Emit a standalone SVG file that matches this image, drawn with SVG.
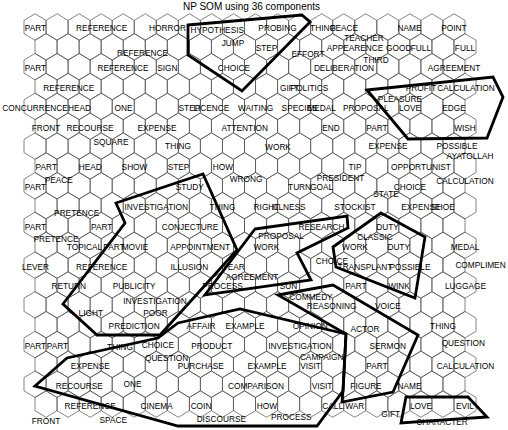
<svg xmlns="http://www.w3.org/2000/svg" xmlns:xlink="http://www.w3.org/1999/xlink" width="508" height="430" viewBox="0 0 508 430">
<style>
#h{fill:none;stroke:#505050;stroke-width:0.7}
.t{font-family:"Liberation Sans",Arial,Helvetica,sans-serif;font-size:8.3px;text-anchor:middle;fill:#000}
.ti{font-family:"Liberation Sans",Arial,Helvetica,sans-serif;font-size:10px;text-anchor:middle;fill:#000}
.c{fill:none;stroke:#000;stroke-width:2.8;stroke-linejoin:miter}
</style>
<defs>
<path id="h" d="M0,-13.23L11.025,-6.615V6.615L0,13.23L-11.025,6.615V-6.615Z"/>
<g id="row">
<use href="#h" x="0"/><use href="#h" x="22.05"/><use href="#h" x="44.1"/><use href="#h" x="66.15"/><use href="#h" x="88.2"/>
<use href="#h" x="110.25"/><use href="#h" x="132.3"/><use href="#h" x="154.35"/><use href="#h" x="176.4"/><use href="#h" x="198.45"/>
<use href="#h" x="220.5"/><use href="#h" x="242.55"/><use href="#h" x="264.6"/><use href="#h" x="286.65"/><use href="#h" x="308.7"/>
<use href="#h" x="330.75"/><use href="#h" x="352.8"/><use href="#h" x="374.85"/><use href="#h" x="396.9"/><use href="#h" x="418.95"/>
</g>
</defs>
<rect width="508" height="430" fill="#fff"/>
<g id="grid">
<use href="#row" x="35.03" y="27"/>
<use href="#row" x="46.05" y="46.845"/>
<use href="#row" x="35.03" y="66.69"/>
<use href="#row" x="46.05" y="86.535"/>
<use href="#row" x="35.03" y="106.38"/>
<use href="#row" x="46.05" y="126.225"/>
<use href="#row" x="35.03" y="146.07"/>
<use href="#row" x="46.05" y="165.915"/>
<use href="#row" x="35.03" y="185.76"/>
<use href="#row" x="46.05" y="205.605"/>
<use href="#row" x="35.03" y="225.45"/>
<use href="#row" x="46.05" y="245.295"/>
<use href="#row" x="35.03" y="265.14"/>
<use href="#row" x="46.05" y="284.985"/>
<use href="#row" x="35.03" y="304.83"/>
<use href="#row" x="46.05" y="324.675"/>
<use href="#row" x="35.03" y="344.52"/>
<use href="#row" x="46.05" y="364.365"/>
<use href="#row" x="35.03" y="384.21"/>
<use href="#row" x="46.05" y="404.055"/>
</g>
<text class="ti" x="251.5" y="10">NP SOM using 36 components</text>
<g id="labels" class="t">
<text x="35.5" y="31.3">PART</text>
<text x="101.7" y="31.3">REFERENCE</text>
<text x="167.5" y="31.3">HORROR</text>
<text x="217.3" y="33">HYPOTHESIS</text>
<text x="277.5" y="31.3">PROBING</text>
<text x="323" y="31.3">THING</text>
<text x="344" y="31.3">PEACE</text>
<text x="409.5" y="31.3">NAME</text>
<text x="454" y="31.3">POINT</text>
<text x="142.5" y="55.7">REFERENCE</text>
<text x="233" y="46.3">JUMP</text>
<text x="266.5" y="51.3">STEP</text>
<text x="364" y="40.7">TEACHER</text>
<text x="308" y="57">EFFORT</text>
<text x="355" y="51">APPEARENCE</text>
<text x="398.8" y="51">GOOD</text>
<text x="420.9" y="51">FULL</text>
<text x="465" y="51">FULL</text>
<text x="35.5" y="71.3">PART</text>
<text x="123" y="71.3">REFERENCE</text>
<text x="167.3" y="71.3">SIGN</text>
<text x="234" y="71.3">CHOICE</text>
<text x="344" y="71.3">DELIBERATION</text>
<text x="376" y="62.5">THIRD</text>
<text x="454" y="71.3">AGREEMENT</text>
<text x="68.8" y="91.3">REFERENCE</text>
<text x="289.5" y="91.3">GIFT</text>
<text x="309.5" y="91.3">POLITICS</text>
<text x="421" y="91.3">PROFIT</text>
<text x="466" y="91.3">CALCULATION</text>
<text x="35" y="110.7">CONCURRENCE</text>
<text x="79.5" y="110.7">HEAD</text>
<text x="123.5" y="110.7">ONE</text>
<text x="189.4" y="110.7">STEP</text>
<text x="211.4" y="110.7">LICENCE</text>
<text x="255.6" y="110.7">WAITING</text>
<text x="299.6" y="110.7">SPECIES</text>
<text x="321.7" y="110.7">MEDAL</text>
<text x="365.8" y="110.7">PROPOSAL</text>
<text x="400" y="102">PLEASURE</text>
<text x="410" y="110.7">LOVE</text>
<text x="454" y="110.7">EDGE</text>
<text x="46" y="130.7">FRONT</text>
<text x="90" y="130.7">RECOURSE</text>
<text x="157" y="130.7">EXPENSE</text>
<text x="244.7" y="130.7">ATTENTION</text>
<text x="331" y="130.7">END</text>
<text x="377" y="130.7">PART</text>
<text x="465" y="130.7">WISH</text>
<text x="111" y="144.7">SQUARE</text>
<text x="178" y="148.5">THING</text>
<text x="278" y="149.7">WORK</text>
<text x="388" y="149">EXPENSE</text>
<text x="457" y="148.5">POSSIBLE</text>
<text x="470" y="159">AYATOLLAH</text>
<text x="46.3" y="169.7">PART</text>
<text x="90.3" y="169.7">HEAD</text>
<text x="134.5" y="169.7">SHOW</text>
<text x="178.5" y="169.7">STEP</text>
<text x="223" y="169.7">HOW</text>
<text x="355" y="169.7">TIP</text>
<text x="421" y="169.7">OPPORTUNIST</text>
<text x="58.7" y="183">PEACE</text>
<text x="246" y="182">WRONG</text>
<text x="340.5" y="180.7">PRESIDENT</text>
<text x="35.5" y="189.7">PART</text>
<text x="189.7" y="189.7">STUDY</text>
<text x="299.6" y="189.7">TURN</text>
<text x="321.7" y="189.7">GOAL</text>
<text x="410" y="189.7">CHOICE</text>
<text x="386" y="197">STATE</text>
<text x="465" y="184">CALCULATION</text>
<text x="156.3" y="209.7">INVESTIGATION</text>
<text x="222.5" y="209.7">THING</text>
<text x="266.5" y="209.7">RIGHT</text>
<text x="288.6" y="209.7">ILLNESS</text>
<text x="355" y="209.7">STOCKIST</text>
<text x="420.9" y="209.7">EXPENSE</text>
<text x="443" y="209.7">SHOE</text>
<text x="76.7" y="216.3">PRETENCE</text>
<text x="35.5" y="229.7">PART</text>
<text x="101.7" y="229.7">PART</text>
<text x="190" y="229.7">CONJECTURE</text>
<text x="321.5" y="229.7">RESEARCH</text>
<text x="387.5" y="229.7">DUTY</text>
<text x="375" y="239.7">CLASSIC</text>
<text x="56" y="242">PRETENCE</text>
<text x="281" y="239">PROPOSAL</text>
<text x="84.5" y="250.3">TOPICAL</text>
<text x="114" y="250.3">PART</text>
<text x="135" y="250.3">MOVIE</text>
<text x="200.2" y="250.3">APPOINTMENT</text>
<text x="266.4" y="250.3">WORK</text>
<text x="355" y="250.3">WORK</text>
<text x="398.7" y="250.3">DUTY</text>
<text x="465" y="250.3">MEDAL</text>
<text x="35.5" y="269.7">LEVER</text>
<text x="101.7" y="269.7">REFERENCE</text>
<text x="189.4" y="269.7">ILLUSION</text>
<text x="233.5" y="269.7">YEAR</text>
<text x="332" y="263.7">CHOICE</text>
<text x="365" y="269.7">TRANSPLANT</text>
<text x="410" y="269.7">POSSIBLE</text>
<text x="480.5" y="268">COMPLIMEN</text>
<text x="252" y="279.7">AGREEMENT</text>
<text x="68.8" y="288.7">RETURN</text>
<text x="134.2" y="288.7">PUBLICITY</text>
<text x="222.5" y="288.7">PROCESS</text>
<text x="288.6" y="288.7">SUN</text>
<text x="356" y="288.7">PART</text>
<text x="399" y="288.7">WINK</text>
<text x="465.5" y="288.7">LUGGAGE</text>
<text x="311" y="299.7">COMMEDY</text>
<text x="155" y="303.7">INVESTIGATION</text>
<text x="90.8" y="316.3">LIGHT</text>
<text x="155.5" y="316.3">POOR</text>
<text x="331.6" y="309">REASONING</text>
<text x="388" y="309">VOICE</text>
<text x="134.2" y="329">PREDICTION</text>
<text x="201" y="329">AFFAIR</text>
<text x="245" y="329">EXAMPLE</text>
<text x="310.3" y="329">OPINION</text>
<text x="365" y="332.3">ACTOR</text>
<text x="443" y="329">THING</text>
<text x="35.5" y="348.5">PART</text>
<text x="57.5" y="348.5">PART</text>
<text x="120" y="350.3">THING</text>
<text x="158" y="348">CHOICE</text>
<text x="211.7" y="349">PRODUCT</text>
<text x="300" y="349">INVESTIGATION</text>
<text x="387.7" y="349">SERMON</text>
<text x="463.3" y="345.7">QUESTION</text>
<text x="90.3" y="369">EXPENSE</text>
<text x="166.6" y="361.3">QUESTION</text>
<text x="200.7" y="369">PURCHASE</text>
<text x="267" y="369">EXAMPLE</text>
<text x="310.5" y="369">VISIT</text>
<text x="321.7" y="360.3">CAMPAIGN</text>
<text x="377" y="369">PART</text>
<text x="465.5" y="369">CALCULATION</text>
<text x="79.2" y="389">RECOURSE</text>
<text x="132.5" y="387">ONE</text>
<text x="256" y="389">COMPARISON</text>
<text x="322" y="389">VISIT</text>
<text x="366" y="389">FIGURE</text>
<text x="409.5" y="389">NAME</text>
<text x="90.2" y="409">REFERENCE</text>
<text x="156.7" y="409">CINEMA</text>
<text x="201" y="409">COIN</text>
<text x="267" y="409">HOW</text>
<text x="332.7" y="409">CALL</text>
<text x="354.8" y="409">WAR</text>
<text x="421" y="409">LOVE</text>
<text x="465" y="409">EVIL</text>
<text x="390.7" y="417">GIFT</text>
<text x="46" y="423.7">FRONT</text>
<text x="113.3" y="423">SPACE</text>
<text x="221.3" y="422.3">DISCOURSE</text>
<text x="291.2" y="420.3">PROCESS</text>
<text x="442" y="424.7">CHARACTER</text>
</g>
<g id="clusters">
<polygon class="c" points="188,25 302,15 310,22 242,91 188,55"/>
<polygon class="c" points="367,90 493,77 503,97 487,138 408,139"/>
<polygon class="c" points="116,203 203,174 237,250 160,335 97,335 63,304 125,223"/>
<polygon class="c" points="255,229 347,216 348,228 297,253 311,280 205,295"/>
<polygon class="c" points="381,213 425,237 415,298 336,267 333,247"/>
<polygon class="c" points="35,386 67,358 158,338 178,323 240,309 346,334 343,391 317,426 178,426"/>
<polygon class="c" points="278,295 333,285 418,335 393,392 342,402 343,391 346,334"/>
<polygon class="c" points="406,397 468,397 487,417 401,423"/>
</g>
</svg>
